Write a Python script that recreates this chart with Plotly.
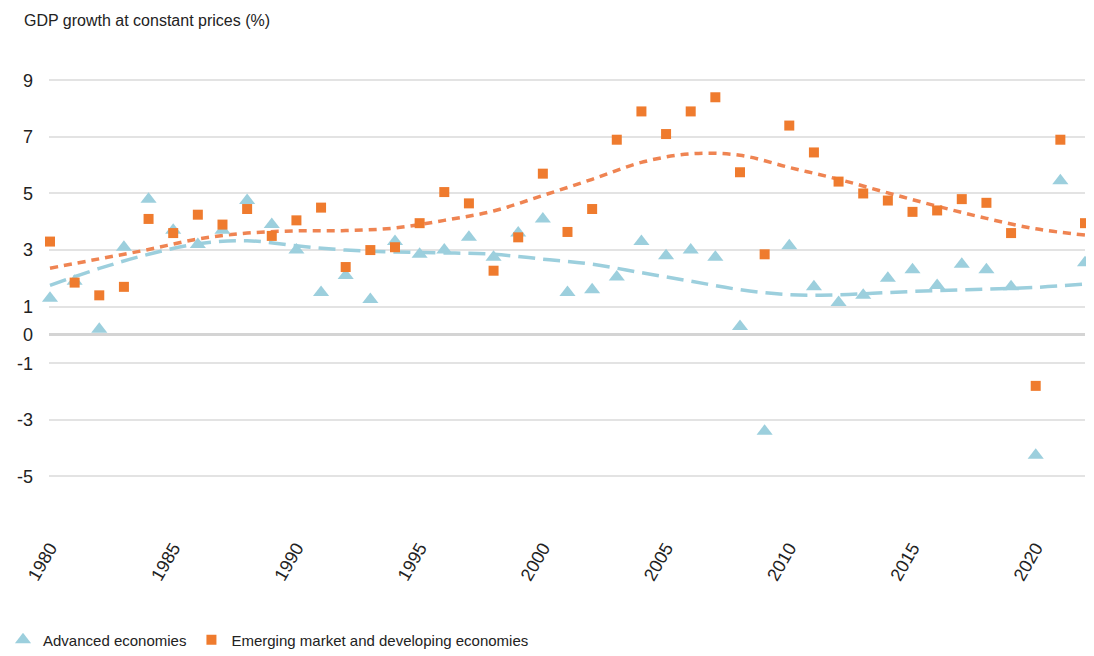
import plotly.graph_objects as go

years = list(range(1980, 2023))

advanced = [1.3, 1.9, 0.2, 3.1, 4.8, 3.7, 3.2, 3.7, 4.75, 3.9,
            3.0, 1.5, 2.1, 1.25, 3.3, 2.85, 3.0, 3.45, 2.75, 3.6,
            4.1, 1.5, 1.6, 2.05, 3.3, 2.8, 3.0, 2.75, 0.3, -3.4,
            3.15, 1.7, 1.15, 1.4, 2.0, 2.3, 1.75, 2.5, 2.3, 1.7,
            -4.25, 5.45, 2.55]

emerging = [3.3, 1.85, 1.4, 1.7, 4.1, 3.6, 4.25, 3.9, 4.45, 3.5,
            4.05, 4.5, 2.4, 3.0, 3.1, 3.95, 5.05, 4.65, 2.27, 3.45,
            5.7, 3.64, 4.45, 6.9, 7.9, 7.1, 7.9, 8.4, 5.75, 2.85,
            7.4, 6.45, 5.42, 5.0, 4.75, 4.35, 4.4, 4.8, 4.67, 3.6,
            -1.8, 6.9, 3.95]

trend_years = [1980, 1982, 1984, 1986, 1988, 1990, 1992, 1994, 1996, 1998,
               2000, 2002, 2004, 2006, 2008, 2010, 2012, 2014, 2016, 2018,
               2020, 2022]
trend_advanced = [1.75, 2.35, 2.85, 3.22, 3.33, 3.15, 3.0, 2.93, 2.9, 2.85,
                  2.68, 2.5, 2.2, 1.9, 1.6, 1.42, 1.42, 1.5, 1.57, 1.62,
                  1.68, 1.8]
trend_emerging = [2.36, 2.69, 3.02, 3.39, 3.6, 3.68, 3.69, 3.78, 4.05, 4.38,
                  4.93, 5.5, 6.1, 6.4, 6.35, 5.92, 5.5, 5.02, 4.55, 4.12,
                  3.75, 3.53]

y_ticks = [9, 7, 5, 3, 1, 0, -1, -3, -5]
x_ticks = [1980, 1985, 1990, 1995, 2000, 2005, 2010, 2015, 2020]

BLUE = "#9ccfdd"
ORANGE = "#ef7b2e"
ORANGE_LINE = "#ef8452"
FONT = "Liberation Sans Narrow, Liberation Sans, Arial, sans-serif"

fig = go.Figure()

fig.add_trace(go.Scatter(
    x=trend_years, y=trend_advanced, mode="lines", line_shape="spline",
    line=dict(color=BLUE, width=3.5, dash="17px,8px"),
    showlegend=False, hoverinfo="skip"))
fig.add_trace(go.Scatter(
    x=trend_years, y=trend_emerging, mode="lines", line_shape="spline",
    line=dict(color=ORANGE_LINE, width=3.5, dash="8px,6px"),
    showlegend=False, hoverinfo="skip"))

fig.add_trace(go.Scatter(
    x=years, y=advanced, mode="markers", name="Advanced economies",
    marker=dict(symbol="triangle-up", size=14, color=BLUE),
    cliponaxis=False))
fig.add_trace(go.Scatter(
    x=years, y=emerging, mode="markers",
    name="Emerging market and developing economies",
    marker=dict(symbol="square", size=10, color=ORANGE),
    cliponaxis=False))

# the page body adds an 8px offset, so the figure is sized to fit the window
fig.update_layout(
    width=1086, height=648,
    margin=dict(l=41, r=9, t=44, b=123, autoexpand=False),
    paper_bgcolor="white", plot_bgcolor="white",
    font=dict(family=FONT, color="#222222", size=15),
    showlegend=True,
    legend=dict(orientation="h", x=-0.0444, xanchor="left",
                y=-0.2225, yanchor="middle",
                font=dict(size=15, color="#222222"),
                itemwidth=30, tracegroupgap=0,
                bgcolor="rgba(0,0,0,0)"),
    annotations=[dict(text="GDP growth at constant prices (%)",
                      xref="paper", yref="paper",
                      x=-0.026, y=1.0665, xanchor="left", yanchor="middle",
                      showarrow=False,
                      font=dict(size=16, color="#222222", family=FONT))],
)

fig.update_xaxes(
    range=[1979.96, 2022.0], tickvals=x_ticks, ticktext=[str(v) for v in x_ticks],
    tickangle=-60, showgrid=False, zeroline=False, showline=False,
    ticks="", automargin=False, tickfont=dict(size=18, color="#222222"))

fig.update_yaxes(
    range=[-7, 10], tickvals=y_ticks, ticktext=[str(v) for v in y_ticks],
    showgrid=True, gridcolor="#e3e3e3", gridwidth=2,
    zeroline=True, zerolinecolor="#d4d4d4", zerolinewidth=3,
    showline=False, ticks="", ticklabelstandoff=15, automargin=False,
    tickfont=dict(size=18, color="#222222"))

fig.write_html("out.html")
